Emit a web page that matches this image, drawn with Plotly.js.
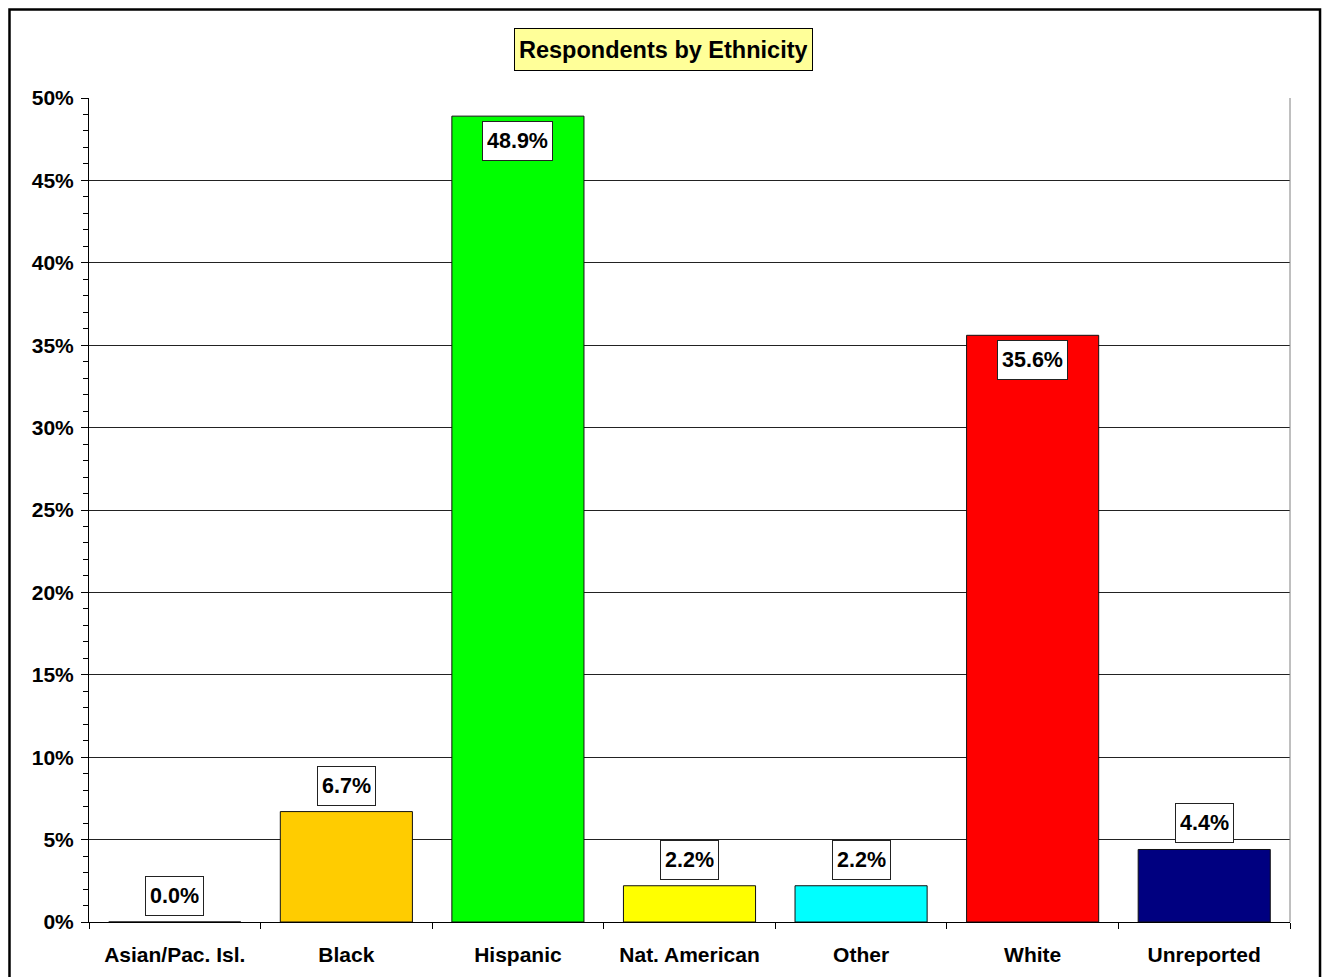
<!DOCTYPE html>
<html>
<head>
<meta charset="utf-8">
<script src="https://cdn.plot.ly/plotly-3.0.1.min.js"></script>
<style>
html, body { margin: 0; padding: 0; background: #fff; }
#chart { width: 1324px; height: 977px; }
</style>
</head>
<body>
<div id="chart"></div>
<script>
const categories = ["Asian/Pac. Isl.", "Black", "Hispanic", "Nat. American", "Other", "White", "Unreported"];
const percentValues = [0.0, 6.7, 48.9, 2.2, 2.2, 35.6, 4.4];
const barColors = ["#FFCC00", "#FFCC00", "#00FF00", "#FFFF00", "#00FFFF", "#FF0000", "#000080"];
const yTickValues = [0, 5, 10, 15, 20, 25, 30, 35, 40, 45, 50];
const chartTitle = "Respondents by Ethnicity";

const FONT = "Liberation Sans, Arial, Helvetica, sans-serif";

const trace = {
  type: "bar",
  x: categories,
  y: percentValues,
  marker: { color: barColors, line: { color: "#111111", width: 1 } },
  hoverinfo: "skip"
};

const annotations = categories.map((c, i) => {
  const v = percentValues[i];
  const inside = v > 20;
  return {
    x: c, y: v, xref: "x", yref: "y",
    text: v.toFixed(1) + "%",
    showarrow: false,
    yanchor: inside ? "top" : "bottom",
    yshift: inside ? -5 : 6,
    font: { family: FONT, size: 21.5, color: "#000", weight: "bold" },
    bgcolor: "#FFFFFF",
    bordercolor: "#222222",
    borderwidth: 1,
    borderpad: 4,
    height: 30
  };
});

annotations.push({
  x: 0.4786, y: 1.0589, xref: "paper", yref: "paper",
  xanchor: "center", yanchor: "middle",
  text: chartTitle,
  showarrow: false,
  font: { family: FONT, size: 23.5, color: "#000", weight: "bold" },
  bgcolor: "#FFFF99",
  bordercolor: "#000000",
  borderwidth: 1,
  borderpad: 4,
  height: 33
});

const layout = {
  width: 1324, height: 977,
  margin: { l: 89, r: 34, t: 98, b: 55, pad: 0 },
  paper_bgcolor: "#FFFFFF",
  plot_bgcolor: "#FFFFFF",
  showlegend: false,
  bargap: 0.23,
  font: { family: FONT, color: "#000" },
  xaxis: {
    type: "category",
    showline: true, linecolor: "#000", linewidth: 1,
    showgrid: false, zeroline: false,
    ticks: "outside", tickson: "boundaries", ticklen: 6, tickcolor: "#000",
    tickfont: { family: FONT, size: 21, color: "#000", weight: "bold" },
    ticklabelstandoff: 14
  },
  yaxis: {
    range: [0, 50],
    tickvals: yTickValues,
    ticktext: yTickValues.map(v => v + "%"),
    showline: true, linecolor: "#000", linewidth: 1,
    showgrid: true, gridcolor: "#222", gridwidth: 1,
    zeroline: false,
    ticks: "outside", ticklen: 7, tickcolor: "#000",
    minor: { dtick: 1, ticks: "outside", ticklen: 5, tickcolor: "#000", showgrid: false },
    tickfont: { family: FONT, size: 21, color: "#000", weight: "bold" },
    ticklabelstandoff: 3
  },
  annotations: annotations,
  shapes: [
    { type: "line", xref: "paper", yref: "paper", x0: 1, x1: 1, y0: 0, y1: 1,
      line: { color: "#808080", width: 1 } },
    { type: "rect", xref: "paper", yref: "paper",
      x0: -0.0662, x1: 1.0250, y0: -0.0825, y1: 1.1074,
      line: { color: "#000", width: 2.5 }, fillcolor: "rgba(0,0,0,0)", layer: "below" }
  ]
};

Plotly.newPlot("chart", [trace], layout, { displayModeBar: false, staticPlot: true });
</script>
</body>
</html>
